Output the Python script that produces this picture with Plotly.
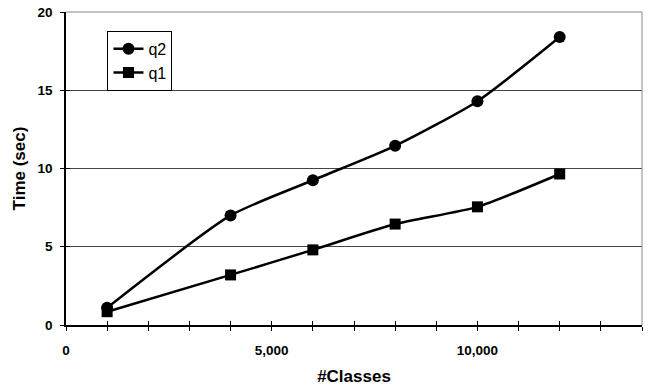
import plotly.graph_objects as go

classes = [1000, 4000, 6000, 8000, 10000, 12000]
q2 = [1.1, 7.0, 9.25, 11.45, 14.3, 18.4]
q1 = [0.85, 3.2, 4.8, 6.45, 7.55, 9.65]

FONT = "Liberation Sans, Arial, sans-serif"

fig = go.Figure()
fig.add_trace(go.Scatter(x=classes, y=q2, name="q2", mode="lines+markers",
                         line=dict(color="black", width=2.5, shape="spline", smoothing=0.6),
                         marker=dict(symbol="circle", size=12, color="black")))
fig.add_trace(go.Scatter(x=classes, y=q1, name="q1", mode="lines+markers",
                         line=dict(color="black", width=2.5, shape="spline", smoothing=0.6),
                         marker=dict(symbol="square", size=11, color="black")))

tickfont = dict(size=13.5, family=FONT, weight="bold", color="black")

fig.update_layout(
    width=648, height=387,
    margin=dict(l=66, r=6, t=12, b=62),
    plot_bgcolor="white", paper_bgcolor="white",
    font=dict(family=FONT, color="black"),
    showlegend=True,
    legend=dict(x=0.072, y=0.94, xanchor="left", yanchor="top",
                bordercolor="black", borderwidth=1, bgcolor="white",
                font=dict(size=16), tracegroupgap=0, itemwidth=30),
    xaxis=dict(range=[0, 14000], tickvals=[0, 5000, 10000], ticktext=["0", "5,000", "10,000"],
               ticks="outside", ticklen=4, tickcolor="black", ticklabelstandoff=8,
               minor=dict(dtick=1000, tick0=0, ticks="outside", ticklen=4, tickcolor="black"),
               showline=True, linecolor="black", linewidth=1.5, mirror=False,
               showgrid=False, zeroline=False, automargin=False,
               tickfont=tickfont,
               title=dict(text="<b>#Classes</b>", font=dict(size=17), standoff=13)),
    xaxis2=dict(range=[0, 14000], overlaying="x", matches="x", dtick=1000, tick0=0,
                ticks="inside", ticklen=4, tickcolor="black", showticklabels=False,
                showgrid=False, zeroline=False, showline=False, automargin=False),
    yaxis=dict(range=[0, 20], tickvals=[0, 5, 10, 15, 20],
               ticks="outside", ticklen=4, tickcolor="black", ticklabelstandoff=5,
               showline=True, linecolor="black", linewidth=1.5,
               showgrid=True, gridcolor="#444444", gridwidth=1, zeroline=False,
               automargin=False, tickfont=tickfont, ticklabeloverflow="allow",
               title=dict(text="<b>Time (sec)</b>", font=dict(size=17), standoff=8)),
    yaxis2=dict(range=[0, 20], overlaying="y", tickvals=[0, 5, 10, 15, 20],
                ticks="inside", ticklen=4, tickcolor="black", showticklabels=False,
                showgrid=False, zeroline=False, showline=False, automargin=False),
)
# invisible trace to activate inside-tick axes
fig.add_trace(go.Scatter(x=[None], y=[None], xaxis="x2", yaxis="y2", showlegend=False,
                         hoverinfo="skip"))
# top and right border of plot area (gray)
fig.add_shape(type="line", xref="paper", yref="paper", x0=0, x1=1, y0=1, y1=1,
              line=dict(color="#888888", width=1))
fig.add_shape(type="line", xref="paper", yref="paper", x0=1, x1=1, y0=0, y1=1,
              line=dict(color="#888888", width=1))

fig.write_html("out.html", config={"displayModeBar": False},
               post_script="document.body.style.margin='0';")
